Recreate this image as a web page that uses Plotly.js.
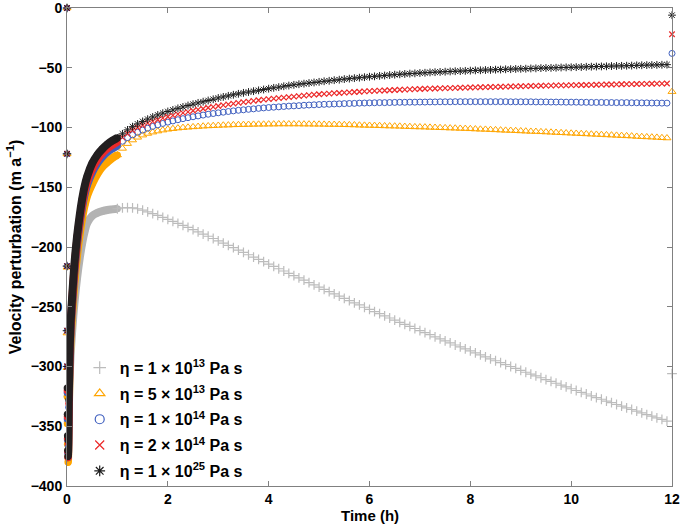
<!DOCTYPE html>
<html>
<head>
<meta charset="utf-8">
<script src="https://cdn.plot.ly/plotly-3.0.1.min.js"></script>
<style>html,body{margin:0;padding:0;background:#fff;}#chart{width:680px;height:527px;}</style>
</head>
<body>
<div id="chart"></div>
<script>
// ---------- data ----------
const legendNames = [
  "<b>η = 1 × 10<sup>13</sup> Pa s</b>",
  "<b>η = 5 × 10<sup>13</sup> Pa s</b>",
  "<b>η = 1 × 10<sup>14</sup> Pa s</b>",
  "<b>η = 2 × 10<sup>14</sup> Pa s</b>",
  "<b>η = 1 × 10<sup>25</sup> Pa s</b>"
];
const xTitle = "<b>Time (h)</b>";
const yTitle = "Velocity perturbation (m a<sup>−1</sup>)";

// time (h)
const tInit = [0, 0.0005, 0.001, 0.0015, 0.002];
const tDense = [0.003, 0.005, 0.008, 0.012, 0.018, 0.025, 0.035, 0.05, 0.07, 0.1, 0.15, 0.2, 0.25, 0.3, 0.35, 0.4, 0.5, 0.6, 0.7, 0.8, 0.9, 1.0];
const tCoarse = [1.0,1.1,1.2,1.3,1.4,1.5,1.6,1.7,1.8,1.9,2.0,2.1,2.2,2.3,2.4,2.5,2.6,2.7,2.8,2.9,
  3.0,3.1,3.2,3.3,3.4,3.5,3.6,3.7,3.8,3.9,4.0,4.1,4.2,4.3,4.4,4.5,4.6,4.7,4.8,4.9,
  5.0,5.1,5.2,5.3,5.4,5.5,5.6,5.7,5.8,5.9,6.0,6.1,6.2,6.3,6.4,6.5,6.6,6.7,6.8,6.9,
  7.0,7.1,7.2,7.3,7.4,7.5,7.6,7.7,7.8,7.9,8.0,8.1,8.2,8.3,8.4,8.5,8.6,8.7,8.8,8.9,
  9.0,9.1,9.2,9.3,9.4,9.5,9.6,9.7,9.8,9.9,10.0,10.1,10.2,10.3,10.4,10.5,10.6,10.7,10.8,10.9,
  11.0,11.1,11.2,11.3,11.4,11.5,11.6,11.7,11.8,11.9];
const tEnd = [12];

// eta = 1e13
const grayInit = [0, -122, -216, -270, -300];
const grayDense = [-325, -346, -362, -372, -375, -366, -340, -312, -292, -272, -246, -226, -210, -197, -187, -180, -174, -171.5, -170, -169, -168.5, -168];
const grayCoarse = [-168,-167.3,-167,-167.3,-168,-169.2,-170.6,-172.1,-173.6,-175.2,-176.8,-178.5,-180.2,-181.9,-183.6,-185.4,-187.3,-189.2,-191,-192.9,
  -194.8,-196.7,-198.7,-200.6,-202.6,-204.5,-206.5,-208.4,-210.4,-212.3,-214.3,-216.2,-218.2,-220.1,-222.1,-224,-225.9,-227.8,-229.8,-231.7,
  -233.6,-235.5,-237.4,-239.2,-241.1,-243,-244.8,-246.7,-248.5,-250.4,-252.2,-254,-255.8,-257.6,-259.4,-261.2,-263,-264.7,-266.5,-268.2,
  -270,-271.7,-273.4,-275.2,-276.9,-278.6,-280.3,-282,-283.6,-285.3,-287,-288.6,-290.3,-291.9,-293.6,-295.2,-296.8,-298.4,-300,-301.6,
  -303.2,-304.8,-306.3,-307.9,-309.4,-311,-312.5,-314,-315.6,-317.1,-318.6,-320.1,-321.6,-323,-324.5,-326,-327.4,-328.9,-330.3,-331.8,
  -333.2,-334.6,-336,-337.4,-338.8,-340.2,-341.6,-343,-344.3,-345.7];
const grayEnd = [-306];

// eta = 5e13
const orangeInit = [0, -122, -217, -272, -301];
const orangeDense = [-325, -348, -365, -376, -380, -370, -340, -305, -279, -258, -229, -207, -190, -176, -165, -157, -147, -139, -133, -129, -125.5, -123];
const orangeCoarse = [-123,-117.5,-113.5,-110.5,-108.2,-106.4,-105,-103.9,-103,-102.2,-101.5,-101,-100.5,-100.1,-99.8,-99.5,-99.2,-98.9,-98.7,-98.5,
  -98.3,-98.1,-98,-97.8,-97.7,-97.6,-97.5,-97.4,-97.3,-97.3,-97.2,-97.2,-97.1,-97.1,-97.1,-97.1,-97.1,-97.2,-97.2,-97.3,
  -97.3,-97.4,-97.5,-97.5,-97.6,-97.7,-97.8,-97.9,-98.1,-98.2,-98.3,-98.4,-98.5,-98.7,-98.8,-98.9,-99,-99.2,-99.3,-99.5,
  -99.6,-99.7,-99.9,-100,-100.2,-100.3,-100.5,-100.6,-100.8,-100.9,-101.1,-101.3,-101.5,-101.6,-101.8,-102,-102.2,-102.4,-102.5,-102.7,
  -102.9,-103.1,-103.3,-103.4,-103.6,-103.8,-104,-104.2,-104.4,-104.6,-104.8,-105,-105.2,-105.4,-105.6,-105.8,-106,-106.2,-106.4,-106.6,
  -106.8,-107,-107.2,-107.5,-107.7,-107.9,-108.1,-108.3,-108.6,-108.8];
const orangeEnd = [-70];

// eta = 1e14
const blueInit = [0, -122, -216, -270, -300];
const blueDense = [-322, -344, -361, -372, -376, -366, -334, -298, -271, -250, -220, -198, -181, -167, -156, -148, -137.5, -130, -124.5, -120.5, -117.5, -115];
const blueCoarse = [-115,-111.5,-108.5,-106.1,-104,-102.2,-100.6,-99.1,-97.8,-96.6,-95.5,-94.5,-93.5,-92.6,-91.8,-91,-90.3,-89.6,-88.9,-88.3,
  -87.7,-87.2,-86.6,-86.1,-85.6,-85.2,-84.8,-84.4,-84,-83.6,-83.3,-83,-82.7,-82.4,-82.1,-81.9,-81.7,-81.4,-81.2,-81,
  -80.8,-80.6,-80.5,-80.3,-80.2,-80,-79.9,-79.8,-79.6,-79.5,-79.4,-79.3,-79.2,-79.2,-79.1,-79,-78.9,-78.9,-78.8,-78.8,
  -78.7,-78.7,-78.6,-78.6,-78.5,-78.5,-78.5,-78.4,-78.4,-78.4,-78.4,-78.4,-78.4,-78.4,-78.4,-78.4,-78.4,-78.4,-78.5,-78.5,
  -78.5,-78.5,-78.5,-78.6,-78.6,-78.6,-78.7,-78.7,-78.7,-78.8,-78.8,-78.8,-78.9,-78.9,-79,-79,-79,-79.1,-79.1,-79.2,
  -79.2,-79.2,-79.3,-79.3,-79.4,-79.4,-79.5,-79.5,-79.6,-79.6];
const blueEnd = [-38];

// eta = 2e14
const redInit = [0, -122, -216, -270, -300];
const redDense = [-320, -342, -360, -371, -376, -364, -331, -295, -268, -247, -217, -195, -178, -164, -153, -145, -134.5, -127, -121.5, -117.5, -114.5, -112];
const redCoarse = [-112,-108.2,-105,-102.3,-100,-98.1,-96.4,-94.9,-93.5,-92.2,-91,-89.9,-88.8,-87.8,-86.9,-86,-85.1,-84.3,-83.5,-82.7,
  -82,-81.3,-80.6,-80,-79.4,-78.8,-78.3,-77.7,-77.2,-76.7,-76.3,-75.8,-75.4,-75,-74.6,-74.1,-73.7,-73.3,-72.9,-72.5,
  -72.2,-71.9,-71.6,-71.3,-71.1,-70.8,-70.6,-70.3,-70.1,-69.8,-69.6,-69.4,-69.2,-69,-68.8,-68.6,-68.4,-68.3,-68.1,-67.9,
  -67.8,-67.6,-67.5,-67.4,-67.2,-67.1,-67,-66.9,-66.7,-66.6,-66.5,-66.4,-66.3,-66.2,-66.1,-66,-65.9,-65.8,-65.7,-65.6,
  -65.5,-65.4,-65.3,-65.2,-65.1,-65,-64.9,-64.8,-64.8,-64.7,-64.6,-64.5,-64.4,-64.4,-64.3,-64.2,-64.1,-64,-64,-63.9,
  -63.8,-63.7,-63.7,-63.6,-63.5,-63.5,-63.4,-63.3,-63.3,-63.2];
const redEnd = [-22];

// eta = 1e25
const blackInit = [0, -122, -216, -270, -300];
const blackDense = [-318, -340, -358, -370, -375, -362, -328, -292, -265, -243, -213, -191, -174, -160, -149, -141, -130, -123, -118, -114, -111, -108.5];
const blackCoarse = [-109,-105.3,-102,-99.3,-97,-94.9,-93,-91.2,-89.5,-88,-86.6,-85.3,-84,-82.8,-81.6,-80.5,-79.4,-78.4,-77.4,-76.4,
  -75.3,-74.4,-73.5,-72.6,-71.8,-71,-70.3,-69.6,-68.9,-68.2,-67.5,-66.8,-66.2,-65.5,-64.9,-64.3,-63.8,-63.3,-62.8,-62.3,
  -61.8,-61.3,-60.9,-60.4,-60,-59.5,-59.1,-58.7,-58.3,-57.9,-57.5,-57.2,-56.8,-56.5,-56.1,-55.8,-55.5,-55.2,-54.9,-54.7,
  -54.4,-54.2,-53.9,-53.7,-53.5,-53.3,-53.1,-52.9,-52.8,-52.6,-52.4,-52.2,-52.1,-51.9,-51.8,-51.6,-51.5,-51.3,-51.2,-51,
  -50.9,-50.8,-50.6,-50.5,-50.3,-50.2,-50.1,-50,-49.8,-49.7,-49.6,-49.5,-49.4,-49.2,-49.1,-49,-48.9,-48.8,-48.6,-48.5,
  -48.4,-48.3,-48.2,-48,-47.9,-47.8,-47.7,-47.6,-47.5,-47.4];
const blackEnd = [-6];

const xTickVals = [0, 2, 4, 6, 8, 10, 12];
const yTickVals = [0, -50, -100, -150, -200, -250, -300, -350, -400];

// ---------- styling ----------
const FONT = "Liberation Sans, Arial, Helvetica, sans-serif";
const series = [
  {init: grayInit, dense: grayDense, coarse: grayCoarse, end: grayEnd, color: "#bcbcbc", band: "#b3b3b3", symbol: "cross-thin-open", size: 7, lw: 1.2},
  {init: orangeInit, dense: orangeDense, coarse: orangeCoarse, end: orangeEnd, color: "#ffa500", band: "#ffa500", symbol: "triangle-up-open", size: 7, lw: 1},
  {init: blueInit, dense: blueDense, coarse: blueCoarse, end: blueEnd, color: "#3f5fbf", band: "#3f5fbf", symbol: "circle-open", size: 6, lw: 1},
  {init: redInit, dense: redDense, coarse: redCoarse, end: redEnd, color: "#ec2a2a", band: "#ec2a2a", symbol: "x-thin-open", size: 5.5, lw: 1.2},
  {init: blackInit, dense: blackDense, coarse: blackCoarse, end: blackEnd, color: "#1e1e1e", band: "#231f20", symbol: "asterisk-open", size: 6.5, lw: 1}
];

const traces = [];
series.forEach(function (s) {
  traces.push({
    x: tDense, y: s.dense, type: "scatter", mode: "lines+markers",
    line: {color: s.band, width: 8, shape: "spline"},
    marker: {symbol: "circle", size: 7, color: s.band},
    cliponaxis: false, showlegend: false, hoverinfo: "skip"
  });
  traces.push({
    x: tInit.concat(tCoarse, tEnd), y: s.init.concat(s.coarse, s.end),
    type: "scatter", mode: "markers",
    marker: {symbol: s.symbol, size: s.size, color: s.color, line: {color: s.color, width: s.lw}},
    cliponaxis: false, showlegend: false
  });
});
// legend entries (larger symbols, as in the reference legend)
series.forEach(function (s, i) {
  traces.push({
    x: [null], y: [null], type: "scatter", mode: "markers", name: legendNames[i],
    legendgroup: "g" + i,
    marker: {symbol: s.symbol, size: 9, color: s.color, line: {color: s.color, width: 1.2}}
  });
});

const axisCommon = {
  showline: true, linecolor: "#808080", linewidth: 1, mirror: "ticks",
  ticks: "inside", ticklen: 5, tickcolor: "#808080", tickwidth: 1,
  showgrid: false, zeroline: false, ticklabeloverflow: "allow",
  tickfont: {family: FONT, size: 14, color: "#000", weight: "bold"}
};

const layout = {
  width: 680, height: 527,
  margin: {l: 67, r: 8, t: 8, b: 41},
  paper_bgcolor: "#fff", plot_bgcolor: "#fff",
  font: {family: FONT, color: "#000"},
  xaxis: Object.assign({}, axisCommon, {
    range: [0, 12], tickmode: "array", tickvals: xTickVals, ticklabelstandoff: 0
  }),
  yaxis: Object.assign({}, axisCommon, {
    range: [-400, 0], tickmode: "array", tickvals: yTickVals, ticklabelstandoff: 1,
    title: {text: yTitle, font: {family: FONT, size: 16, weight: "bold", color: "#000"}, standoff: 5}
  }),
  annotations: [{
    text: xTitle, xref: "paper", yref: "paper", x: 0.5, y: -0.0615,
    xanchor: "center", yanchor: "middle", showarrow: false,
    font: {family: FONT, size: 15, color: "#000"}
  }],
  showlegend: true,
  legend: {
    x: 0.021, y: 0.283, xanchor: "left", yanchor: "top",
    bgcolor: "rgba(0,0,0,0)", borderwidth: 0,
    font: {family: FONT, size: 16, color: "#000"},
    tracegroupgap: 2, itemwidth: 30
  }
};

Plotly.newPlot("chart", traces, layout, {displayModeBar: false, staticPlot: true});
</script>
</body>
</html>
